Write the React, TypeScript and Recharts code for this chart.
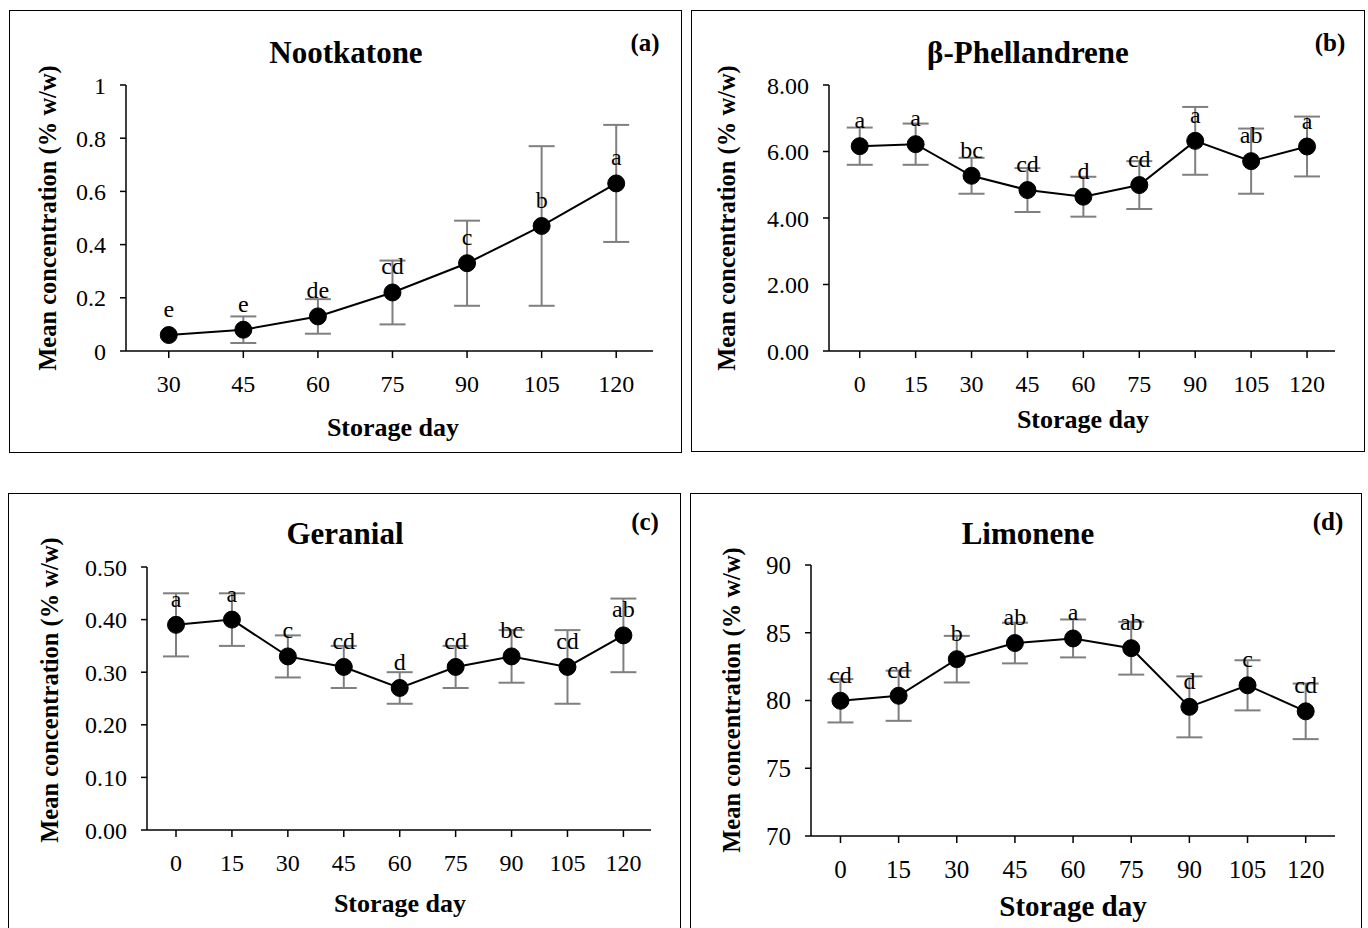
import React from 'react';
import { LineChart, Line, XAxis, YAxis, ErrorBar, LabelList } from 'recharts';

// ---------- Data ----------
const daysA = [30, 45, 60, 75, 90, 105, 120];
const nootkatoneMean = [0.06, 0.08, 0.13, 0.22, 0.33, 0.47, 0.63];
const nootkatoneErr = [0.0, 0.05, 0.065, 0.12, 0.16, 0.3, 0.22];
const nootkatoneLetters = ['e', 'e', 'de', 'cd', 'c', 'b', 'a'];
const nootkatoneTicks = [0, 0.2, 0.4, 0.6, 0.8, 1];

const daysFull = [0, 15, 30, 45, 60, 75, 90, 105, 120];

const phellandreneMean = [6.16, 6.22, 5.27, 4.84, 4.64, 4.99, 6.32, 5.71, 6.15];
const phellandreneErr = [0.56, 0.62, 0.54, 0.66, 0.6, 0.72, 1.02, 0.98, 0.9];
const phellandreneLetters = ['a', 'a', 'bc', 'cd', 'd', 'cd', 'a', 'ab', 'a'];
const phellandreneTicks = [0, 2, 4, 6, 8];

const geranialMean = [0.39, 0.4, 0.33, 0.31, 0.27, 0.31, 0.33, 0.31, 0.37];
const geranialErr = [0.06, 0.05, 0.04, 0.04, 0.03, 0.04, 0.05, 0.07, 0.07];
const geranialLetters = ['a', 'a', 'c', 'cd', 'd', 'cd', 'bc', 'cd', 'ab'];
const geranialTicks = [0, 0.1, 0.2, 0.3, 0.4, 0.5];

const limoneneMean = [79.98, 80.35, 83.05, 84.24, 84.58, 83.86, 79.53, 81.12, 79.2];
const limoneneErr = [1.6, 1.85, 1.72, 1.5, 1.4, 1.95, 2.25, 1.85, 2.05];
const limoneneLetters = ['cd', 'cd', 'b', 'ab', 'a', 'ab', 'd', 'c', 'cd'];
const limoneneTicks = [70, 75, 80, 85, 90];

const build = (days: number[], mean: number[], err: number[], letters: string[]) =>
  days.map((d, i) => ({ day: d, value: mean[i], err: err[i], letter: letters[i] }));

const FONT = '"Liberation Serif", "Times New Roman", serif';

type PanelCfg = {
  title: string;
  tag: string;
  data: any[];
  box: { x: number; y: number; w: number; h: number };
  plot: { l: number; r: number; t: number; b: number };
  xDomain: [number, number];
  xTicks: number[];
  yDomain: [number, number];
  yTicks: number[];
  yFmt: (v: number) => string;
  titlePos: [number, number];
  tagPos: [number, number];
  xTitlePos: [number, number];
  yTitlePos: [number, number];
  xTitleSize: number;
  tickSize: number;
};

const panels: PanelCfg[] = [
  {
    title: 'Nootkatone',
    tag: '(a)',
    data: build(daysA, nootkatoneMean, nootkatoneErr, nootkatoneLetters),
    box: { x: 9, y: 10, w: 673, h: 443 },
    plot: { l: 126, r: 653, t: 85, b: 351 },
    xDomain: [21.4, 127.4],
    xTicks: daysA,
    yDomain: [0, 1],
    yTicks: nootkatoneTicks,
    yFmt: (v) => String(v),
    titlePos: [346, 52],
    tagPos: [645, 42],
    xTitlePos: [393, 428],
    yTitlePos: [48, 218],
    xTitleSize: 26,
    tickSize: 24,
  },
  {
    title: 'β-Phellandrene',
    tag: '(b)',
    data: build(daysFull, phellandreneMean, phellandreneErr, phellandreneLetters),
    box: { x: 691, y: 10, w: 674, h: 442 },
    plot: { l: 829, r: 1335, t: 85, b: 351 },
    xDomain: [-8.24, 127.5],
    xTicks: daysFull,
    yDomain: [0, 8],
    yTicks: phellandreneTicks,
    yFmt: (v) => v.toFixed(2),
    titlePos: [1028, 52],
    tagPos: [1330, 42],
    xTitlePos: [1083, 420],
    yTitlePos: [727, 218],
    xTitleSize: 26,
    tickSize: 24,
  },
  {
    title: 'Geranial',
    tag: '(c)',
    data: build(daysFull, geranialMean, geranialErr, geranialLetters),
    box: { x: 8, y: 493, w: 673, h: 460 },
    plot: { l: 147, r: 651, t: 567, b: 830 },
    xDomain: [-7.78, 127.4],
    xTicks: daysFull,
    yDomain: [0, 0.5],
    yTicks: geranialTicks,
    yFmt: (v) => v.toFixed(2),
    titlePos: [345, 533],
    tagPos: [645, 521],
    xTitlePos: [400, 904],
    yTitlePos: [50, 690],
    xTitleSize: 26,
    tickSize: 24,
  },
  {
    title: 'Limonene',
    tag: '(d)',
    data: build(daysFull, limoneneMean, limoneneErr, limoneneLetters),
    box: { x: 690, y: 493, w: 672, h: 460 },
    plot: { l: 811, r: 1335, t: 565, b: 836 },
    xDomain: [-7.6, 127.56],
    xTicks: daysFull,
    yDomain: [70, 90],
    yTicks: limoneneTicks,
    yFmt: (v) => String(v),
    titlePos: [1028, 533],
    tagPos: [1328, 521],
    xTitlePos: [1073, 906],
    yTitlePos: [732, 700],
    xTitleSize: 29,
    tickSize: 25,
  },
];

const abs = (x: number, y: number): React.CSSProperties => ({
  position: 'absolute',
  left: x,
  top: y,
  transform: 'translate(-50%, -50%)',
  whiteSpace: 'nowrap',
  fontFamily: FONT,
  color: '#000',
  lineHeight: 1,
});

function Panel({ p }: { p: PanelCfg }) {
  const { box, plot } = p;
  const xAxisH = 50;
  const yAxisW = 90;
  const w = plot.r - box.x + 10;
  const h = plot.b - box.y + xAxisH + 2;
  return (
    <>
      <div
        style={{
          position: 'absolute',
          left: box.x,
          top: box.y,
          width: box.w,
          height: box.h,
          border: '1.5px solid #000',
          boxSizing: 'border-box',
        }}
      />
      <div style={{ position: 'absolute', left: box.x, top: box.y }}>
        <LineChart
          width={w}
          height={h}
          data={p.data}
          margin={{ left: plot.l - box.x - yAxisW, top: plot.t - box.y, right: 10, bottom: 2 }}
        >
          <XAxis
            dataKey="day"
            type="number"
            domain={p.xDomain}
            ticks={p.xTicks}
            allowDataOverflow
            height={xAxisH}
            stroke="#000"
            strokeWidth={1.5}
            tickSize={7}
            tickMargin={17}
            tick={{ fill: '#000', fontSize: p.tickSize, fontFamily: FONT }}
            interval={0}
          />
          <YAxis
            type="number"
            domain={p.yDomain}
            ticks={p.yTicks}
            allowDataOverflow
            width={yAxisW}
            stroke="#000"
            strokeWidth={1.5}
            tickSize={6}
            tickMargin={14}
            tickFormatter={p.yFmt}
            tick={{ fill: '#000', fontSize: p.tickSize, fontFamily: FONT }}
            interval={0}
          />
          <Line
            dataKey="value"
            stroke="#000"
            strokeWidth={2}
            isAnimationActive={false}
            dot={{ r: 8.5, fill: '#000', stroke: '#000', strokeWidth: 1 }}
            activeDot={false}
          >
            <ErrorBar dataKey="err" width={13} stroke="#7f7f7f" strokeWidth={2} direction="y" />
            <LabelList
              dataKey="letter"
              position="top"
              offset={18}
              fill="#000"
              fontSize={24}
              fontFamily={FONT}
            />
          </Line>
        </LineChart>
      </div>
      <div style={{ ...abs(p.titlePos[0], p.titlePos[1]), fontSize: 31, fontWeight: 'bold' }}>
        {p.title}
      </div>
      <div style={{ ...abs(p.tagPos[0], p.tagPos[1]), fontSize: 25, fontWeight: 'bold' }}>{p.tag}</div>
      <div style={{ ...abs(p.xTitlePos[0], p.xTitlePos[1]), fontSize: p.xTitleSize, fontWeight: 'bold' }}>
        Storage day
      </div>
      <div
        style={{
          ...abs(p.yTitlePos[0], p.yTitlePos[1]),
          transform: 'translate(-50%, -50%) rotate(-90deg)',
          fontSize: 24.5,
          fontWeight: 'bold',
        }}
      >
        Mean concentration (% w/w)
      </div>
    </>
  );
}

export default function App() {
  return (
    <div
      style={{
        position: 'absolute',
        left: 0,
        top: 0,
        width: 1368,
        height: 928,
        overflow: 'hidden',
        background: '#fff',
      }}
    >
      {panels.map((p) => (
        <Panel key={p.tag} p={p} />
      ))}
    </div>
  );
}
